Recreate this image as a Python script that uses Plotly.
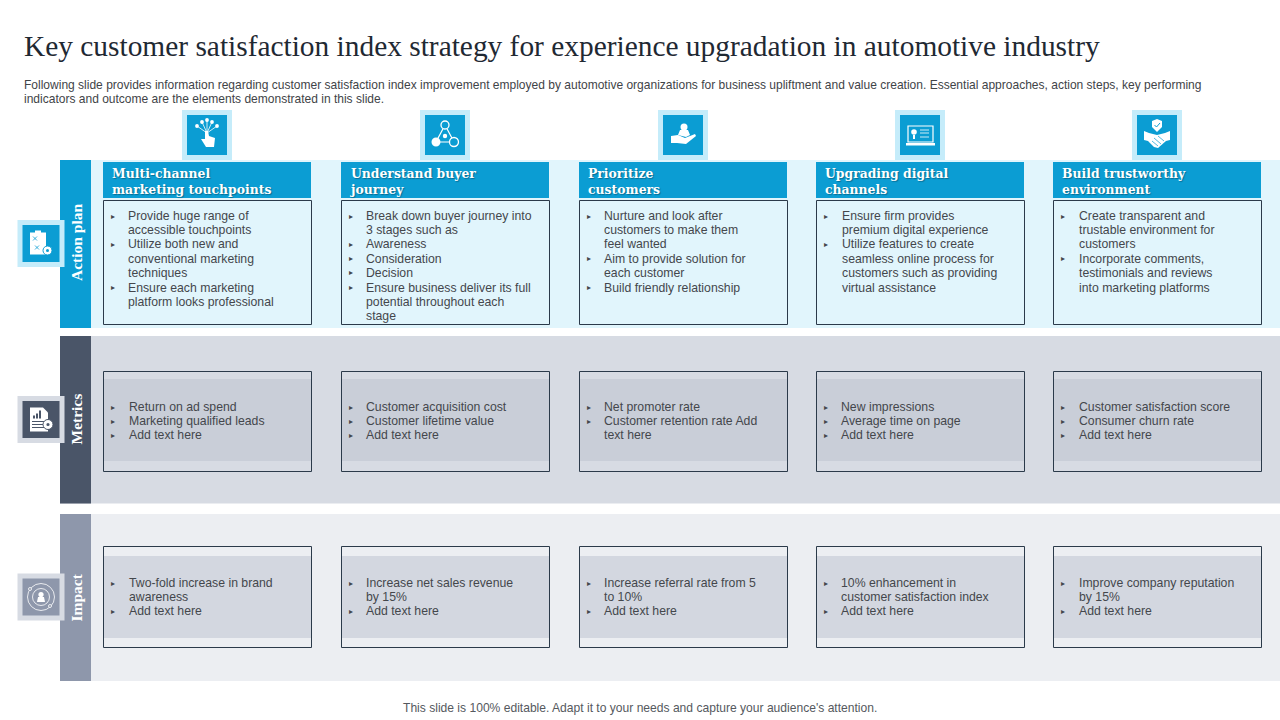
import plotly.graph_objects as go

TITLE = "Key customer satisfaction index strategy for experience upgradation in automotive industry"
SUBTITLE = [
    "Following slide provides information regarding customer satisfaction index improvement employed by automotive organizations for business upliftment and value creation. Essential approaches, action steps, key performing",
    "indicators and outcome are the elements demonstrated in this slide.",
]
FOOTER = "This slide is 100% editable. Adapt it to your needs and capture your audience's attention."
ROW_LABELS = ["Action plan", "Metrics", "Impact"]
HEADERS = [
    ["Multi-channel", "marketing touchpoints"],
    ["Understand buyer", "journey"],
    ["Prioritize", "customers"],
    ["Upgrading digital", "channels"],
    ["Build trustworthy", "environment"],
]
# "* " marks a line that starts a bullet
ACTION = [
    ["* Provide huge range of", "accessible touchpoints", "* Utilize both new and", "conventional marketing", "techniques", "* Ensure each marketing", "platform looks professional"],
    ["* Break down buyer journey into", "3 stages such as", "* Awareness", "* Consideration", "* Decision", "* Ensure business deliver its full", "potential throughout each", "stage"],
    ["* Nurture and look after", "customers to make them", "feel wanted", "* Aim to provide solution for", "each customer", "* Build friendly relationship"],
    ["* Ensure firm provides", "premium digital experience", "* Utilize features to create", "seamless online process for", "customers such as providing", "virtual assistance"],
    ["* Create transparent and", "trustable environment for", "customers", "* Incorporate comments,", "testimonials and reviews", "into marketing platforms"],
]
METRICS = [
    ["* Return on ad spend", "* Marketing qualified leads", "* Add text here"],
    ["* Customer acquisition cost", "* Customer lifetime value", "* Add text here"],
    ["* Net promoter rate", "* Customer retention rate Add", "text here"],
    ["* New impressions", "* Average time on page", "* Add text here"],
    ["* Customer satisfaction score", "* Consumer churn rate", "* Add text here"],
]
IMPACT = [
    ["* Two-fold increase in brand", "awareness", "* Add text here"],
    ["* Increase net sales revenue", "by 15%", "* Add text here"],
    ["* Increase referral rate from 5", "to 10%", "* Add text here"],
    ["* 10% enhancement in", "customer satisfaction index", "* Add text here"],
    ["* Improve company reputation", "by 15%", "* Add text here"],
]

BLUE = "#0B9DD3"
BLUE_LIGHT = "#E1F5FC"
BLUE_HALO = "#C5ECFA"
SLATE = "#4A5568"
SLATE_BAND = "#D7DBE3"
SLATE_INNER = "#C9CED8"
GREY = "#8E97AB"
GREY_BAND = "#ECEEF2"
GREY_INNER = "#D3D7E0"
EDGE = "#2B3A4A"
TEXT = "#44474C"
SANS = "Liberation Sans"
SERIF = "Liberation Serif"

COL_X = [103, 341, 579, 816, 1053]
COL_W = 208
ICON_CX = [207, 445, 683, 920, 1157]
TEXT_OFF_TOP = [25, 25, 25, 26, 26]
TEXT_OFF_LOW = [26, 25, 25, 25, 26]

shapes = []
annotations = []


def rect(x0, y0, x1, y1, fill=None, line=None, lw=1, layer="below"):
    shapes.append(dict(type="rect", xref="x", yref="y", x0=x0, y0=y0, x1=x1, y1=y1,
                       fillcolor=fill or "rgba(0,0,0,0)",
                       line=dict(color=line or "rgba(0,0,0,0)", width=lw if line else 0),
                       layer=layer))


def circle(cx, cy, r, fill=None, line=None, lw=1):
    shapes.append(dict(type="circle", xref="x", yref="y", x0=cx - r, y0=cy - r, x1=cx + r, y1=cy + r,
                       fillcolor=fill or "rgba(0,0,0,0)",
                       line=dict(color=line or "rgba(0,0,0,0)", width=lw if line else 0)))


def path(d, fill=None, line=None, lw=1):
    shapes.append(dict(type="path", xref="x", yref="y", path=d,
                       fillcolor=fill or "rgba(0,0,0,0)",
                       line=dict(color=line or "rgba(0,0,0,0)", width=lw if line else 0)))


def poly(cx, cy, pts, **kw):
    d = "M" + " L".join(f"{cx + a},{cy + b}" for a, b in pts) + " Z"
    path(d, **kw)


def text(x, y, s, size, color=TEXT, family=SANS, weight=None, xanchor="left", angle=0, shadow=None):
    font = dict(size=size, color=color, family=family)
    if weight:
        font["weight"] = weight
    if shadow:
        font["shadow"] = shadow
    annotations.append(dict(x=x, y=y, xref="x", yref="y", text=s, showarrow=False,
                            xanchor=xanchor, yanchor="middle", align="left", font=font,
                            textangle=angle, borderpad=0, borderwidth=0))


# ---------- bands ----------
rect(60, 160, 1280, 328, BLUE_LIGHT)
rect(60, 160, 91, 328, BLUE)
rect(60, 336, 1280, 503.5, SLATE_BAND)
rect(60, 336, 91, 503.5, SLATE)
rect(60, 514, 1280, 681, GREY_BAND)
rect(60, 514, 91, 681, GREY)

ROW_Y = [243, 419.5, 597.5]
for lab, y in zip(ROW_LABELS, ROW_Y):
    text(76, y, lab, 15.5, color="white", family=SERIF, weight="bold", xanchor="center", angle=-90)


# ---------- cards ----------
def body(x, off, y0, lines, line_h, late=0.0):
    for i, ln in enumerate(lines):
        y = y0 + i * line_h + (late if i >= 5 else 0)
        if ln.startswith("* "):
            text(x + 8, y, "▸", 8, color=TEXT, family="DejaVu Sans")
            ln = ln[2:]
        text(x + off, y, ln, 12.25, color=TEXT)


for i, x in enumerate(COL_X):
    # header
    rect(x, 162, x + COL_W, 198, BLUE)
    text(x + 8.5, 181, "<br>".join(HEADERS[i]), 12.4, color="white", family="DejaVu Serif", weight="bold",
         shadow="1px 1px 1px rgba(0,0,0,0.3)")
    # action
    rect(x + 0.5, 200.5, x + COL_W + 0.5, 324.5, None, EDGE, 1)
    body(x, TEXT_OFF_TOP[i], 216, ACTION[i], 14.2, late=0.8)
    # metrics
    rect(x + 0.5, 379, x + COL_W, 461, SLATE_INNER)
    rect(x + 0.5, 371.5, x + COL_W + 0.5, 471.5, None, EDGE, 1)
    body(x, TEXT_OFF_LOW[i], 407, METRICS[i], 14)
    # impact
    rect(x + 0.5, 556, x + COL_W, 638, GREY_INNER)
    rect(x + 0.5, 546.5, x + COL_W + 0.5, 647.5, None, EDGE, 1)
    body(x, TEXT_OFF_LOW[i], 583, IMPACT[i], 14)


# ---------- icons ----------
def tile(cx, cy, halo, core, hw=25, iw=20):
    rect(cx - hw, cy - hw, cx + hw, cy + hw, halo)
    rect(cx - iw, cy - iw, cx + iw, cy + iw, core)


W = "white"
for cx in ICON_CX:
    tile(cx, 135, BLUE_HALO, BLUE)

# touch network
cx, cy = ICON_CX[0], 135
for a, b in [(-10, -9), (-5, -13), (0, -15), (5, -13), (10, -9)]:
    circle(cx + a, cy + b, 1.9, W)
    path(f"M{cx + a},{cy + b} L{cx},{cy - 2}", line=W, lw=0.8)
poly(cx, cy, [(-2, -4), (1, -4), (2, 1), (8, 3), (7, 12), (-1, 12), (-6, 4), (-2, 4)], fill=W)

# buyer triangle
cx = ICON_CX[1]
path(f"M{cx},{cy - 10} L{cx - 9},{cy + 7} L{cx + 9},{cy + 7} Z", line=W, lw=1.2)
circle(cx, cy - 10, 4, BLUE, W, 1.3)
circle(cx - 9, cy + 7, 4.5, W)
circle(cx + 9, cy + 7, 4.5, BLUE, W, 1.3)
circle(cx, cy + 1, 2.2, W)

# hand with person
cx = ICON_CX[2]
circle(cx + 1, cy - 8, 3.5, W)
poly(cx, cy, [(-5, 0), (-3, -5), (5, -5), (7, 0), (3, 2)], fill=W)
poly(cx, cy, [(-12, 1), (-5, 0), (2, 3), (12, -1), (13, 1), (3, 9), (-6, 8), (-12, 8)], fill=W)

# laptop
cx = ICON_CX[3]
rect(cx - 12, cy - 9, cx + 13, cy + 7, None, W, 1.2, layer="above")
circle(cx - 6, cy - 3, 2.8, W)
rect(cx - 7, cy, cx - 5, cy + 4, W, layer="above")
for b in (-5, -2, 2):
    path(f"M{cx},{cy + b} L{cx + 9},{cy + b}", line=W, lw=0.8)
rect(cx - 14, cy + 8, cx + 15, cy + 10.5, W, layer="above")

# shield and handshake
cx = ICON_CX[4]
poly(cx, cy, [(-5, -14), (0, -16), (5, -14), (5, -8), (0, -3), (-5, -8)], fill=W)
path(f"M{cx - 2.5},{cy - 10} L{cx - 0.5},{cy - 8} L{cx + 3},{cy - 12}", line=BLUE, lw=1)
poly(cx, cy, [(-13, -4), (-8, -2), (0, 0), (8, -2), (13, -4), (13, 5), (9, 6), (1, 13), (-3, 12), (-9, 6), (-13, 5)], fill=W)
path(f"M{cx - 3},{cy + 3} L{cx + 4},{cy + 9} M{cx + 1},{cy + 1} L{cx + 7},{cy + 6} M{cx - 5},{cy + 6} L{cx + 1},{cy + 11}", line=BLUE, lw=0.7)

# row tiles
ROW_ICON_CY = [243.5, 419.5, 597]
tile(41, ROW_ICON_CY[0], BLUE_HALO, BLUE, 23.5, 18.5)
tile(41, ROW_ICON_CY[1], SLATE_BAND, SLATE, 23.5, 18.5)
tile(41, ROW_ICON_CY[2], SLATE_BAND, GREY, 23.5, 18.5)

# clipboard
cy = ROW_ICON_CY[0]
rect(30, cy - 11, 46, cy + 11, W, layer="above")
rect(35, cy - 13, 41, cy - 9, W, layer="above")
path(f"M33,{cy - 7} L37,{cy - 3} M37,{cy - 7} L33,{cy - 3} M35,{cy + 2} L39,{cy + 6} M39,{cy + 2} L35,{cy + 6}", line=BLUE, lw=0.8)
circle(47.5, cy + 7, 4.5, W, BLUE, 1)
circle(47.5, cy + 7, 1.5, BLUE)

# report
cy = ROW_ICON_CY[1]
poly(30, cy, [(0, -12), (13, -12), (18, -7), (18, 12), (0, 12)], fill=W)
for k, h in enumerate((3, 5, 8)):
    rect(33 + k * 3, cy - 1 - h, 35 + k * 3, cy - 1, SLATE, layer="above")
for b in (2, 5, 8):
    path(f"M32,{cy + b} L44,{cy + b}", line=SLATE, lw=1)
circle(48, cy + 5, 5, W, SLATE, 1)
circle(48, cy + 5, 1.6, SLATE)

# impact rings
cy = ROW_ICON_CY[2]
circle(41, cy, 13.5, None, W, 0.8)
circle(41, cy, 8.5, None, W, 0.8)
circle(41, cy - 2.5, 2.6, W)
poly(41, cy, [(-4, 5), (-3, 0), (3, 0), (4, 5)], fill=W)
circle(30, cy - 8, 1.5, GREY, W, 0.8)
circle(50, cy + 9, 1.5, GREY, W, 0.8)

# ---------- titles ----------
text(23.5, 46, TITLE, 29.4, color="#1F2933", family=SERIF)
text(24, 85, SUBTITLE[0], 12.02, color="#3F4448")
text(24, 99, SUBTITLE[1], 12.02, color="#3F4448")
text(640, 707.5, FOOTER, 12.08, color="#55595E", xanchor="center")

fig = go.Figure()
fig.update_layout(
    width=1280, height=720, autosize=False,
    margin=dict(l=0, r=0, t=0, b=0, pad=0),
    paper_bgcolor="white", plot_bgcolor="white",
    xaxis=dict(range=[0, 1280], visible=False, fixedrange=True),
    yaxis=dict(range=[720, 0], visible=False, fixedrange=True),
    shapes=shapes, annotations=annotations, showlegend=False,
)
fig.write_html("out.html", config=dict(displayModeBar=False),
               post_script="document.body.style.margin='0';document.body.style.overflow='hidden';")
